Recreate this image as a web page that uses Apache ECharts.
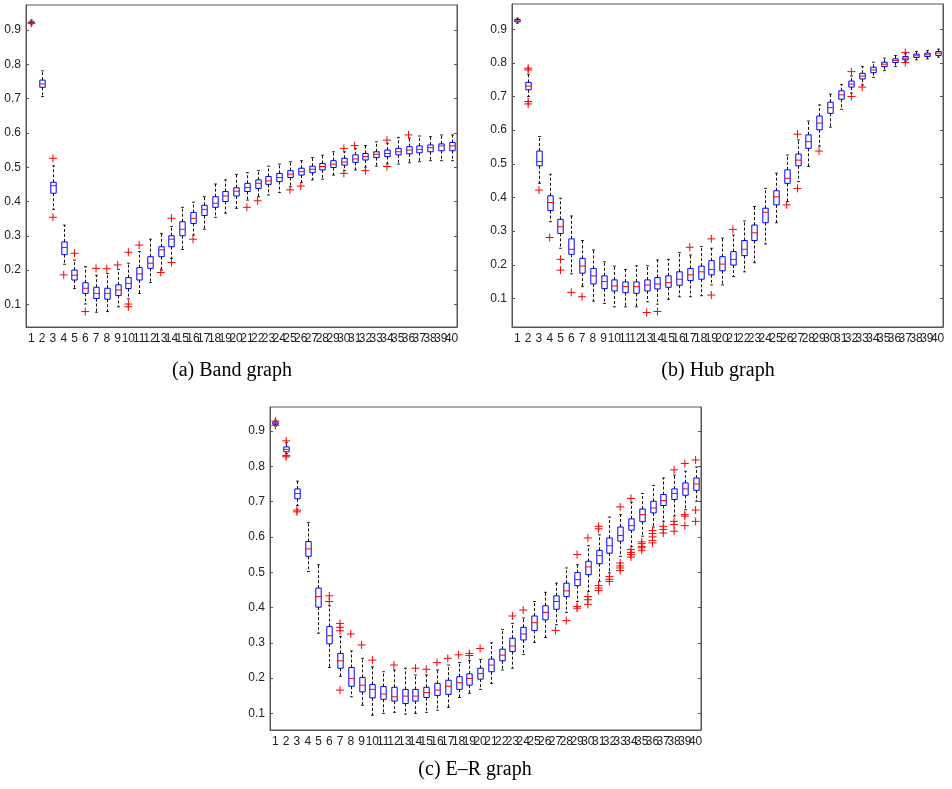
<!DOCTYPE html>
<html>
<head>
<meta charset="utf-8">
<script src="https://cdn.jsdelivr.net/npm/echarts@6/dist/echarts.min.js"></script>
<style>
  html, body { margin: 0; padding: 0; background: #fff; }
  #chart { width: 952px; height: 789px; }
</style>
</head>
<body>
<div id="chart"></div>
<script>
// categories on the x axis
var boxLabels = ['1','2','3','4','5','6','7','8','9','10','11','12','13','14','15','16','17','18','19','20',
  '21','22','23','24','25','26','27','28','29','30','31','32','33','34','35','36','37','38','39','40'];
var yTicks = [0.1, 0.2, 0.3, 0.4, 0.5, 0.6, 0.7, 0.8, 0.9];

// (a) Band graph
var bandMin = [0.915,0.706,0.377,0.217,0.146,0.101,0.077,0.079,0.093,0.116,0.132,0.164,0.2,0.234,0.26,0.302,0.319,0.354,0.366,0.38,0.404,0.414,0.419,0.426,0.443,0.455,0.463,0.465,0.477,0.49,0.492,0.5,0.503,0.51,0.509,0.513,0.516,0.519,0.519,0.519];
var bandQ1  = [0.92,0.733,0.424,0.245,0.171,0.132,0.117,0.115,0.126,0.146,0.171,0.205,0.239,0.268,0.3,0.336,0.359,0.383,0.4,0.416,0.429,0.438,0.45,0.458,0.47,0.477,0.484,0.492,0.499,0.506,0.514,0.521,0.528,0.531,0.536,0.539,0.542,0.545,0.548,0.548];
var bandMed = [0.922,0.743,0.446,0.266,0.185,0.147,0.132,0.132,0.142,0.161,0.189,0.22,0.259,0.29,0.319,0.351,0.377,0.395,0.416,0.43,0.441,0.453,0.46,0.47,0.48,0.487,0.494,0.502,0.509,0.515,0.524,0.531,0.538,0.54,0.545,0.55,0.552,0.557,0.562,0.562];
var bandQ3  = [0.924,0.754,0.456,0.282,0.2,0.163,0.15,0.147,0.157,0.178,0.207,0.239,0.268,0.3,0.341,0.368,0.389,0.414,0.429,0.44,0.453,0.463,0.473,0.482,0.49,0.497,0.503,0.511,0.519,0.526,0.536,0.54,0.545,0.55,0.555,0.56,0.562,0.565,0.568,0.572];
var bandMax = [0.929,0.781,0.504,0.331,0.229,0.21,0.185,0.19,0.202,0.22,0.254,0.29,0.307,0.327,0.383,0.398,0.414,0.451,0.463,0.479,0.484,0.49,0.503,0.509,0.516,0.519,0.528,0.535,0.545,0.545,0.555,0.563,0.574,0.57,0.587,0.585,0.591,0.589,0.594,0.594];
var bandOut = [[1,0.92],[3,0.526],[3,0.354],[4,0.186],[5,0.249],[6,0.079],[7,0.205],[8,0.204],[9,0.215],[10,0.252],[10,0.101],[10,0.093],
  [11,0.273],[13,0.193],[14,0.351],[14,0.222],[16,0.29],[21,0.383],[22,0.402],[25,0.434],[26,0.445],[30,0.555],[30,0.482],
  [31,0.563],[32,0.49],[34,0.579],[34,0.502],[36,0.594]];

// (b) Hub graph
var hubMin = [0.918,0.7,0.442,0.328,0.249,0.173,0.135,0.092,0.085,0.075,0.075,0.075,0.09,0.083,0.097,0.105,0.105,0.108,0.14,0.14,0.165,0.179,0.206,0.262,0.325,0.388,0.447,0.492,0.553,0.609,0.662,0.71,0.734,0.757,0.777,0.789,0.805,0.809,0.812,0.817];
var hubQ1  = [0.922,0.72,0.494,0.361,0.293,0.231,0.175,0.143,0.129,0.122,0.117,0.115,0.122,0.128,0.133,0.139,0.153,0.157,0.17,0.182,0.199,0.227,0.272,0.325,0.378,0.442,0.494,0.546,0.601,0.65,0.692,0.728,0.752,0.771,0.789,0.801,0.809,0.816,0.819,0.822];
var hubMed = [0.925,0.731,0.507,0.385,0.313,0.246,0.196,0.167,0.15,0.137,0.135,0.135,0.14,0.143,0.147,0.157,0.17,0.179,0.186,0.202,0.216,0.246,0.295,0.356,0.402,0.457,0.511,0.566,0.621,0.667,0.705,0.737,0.761,0.779,0.796,0.807,0.814,0.821,0.824,0.829];
var hubQ3  = [0.929,0.742,0.538,0.405,0.335,0.277,0.219,0.189,0.167,0.155,0.149,0.149,0.155,0.162,0.167,0.179,0.189,0.196,0.212,0.224,0.239,0.272,0.318,0.368,0.42,0.482,0.529,0.586,0.642,0.683,0.717,0.746,0.769,0.787,0.802,0.812,0.819,0.826,0.829,0.834];
var hubMax = [0.933,0.765,0.581,0.469,0.398,0.345,0.272,0.244,0.209,0.196,0.186,0.197,0.197,0.214,0.216,0.236,0.229,0.254,0.249,0.279,0.288,0.33,0.373,0.427,0.472,0.526,0.571,0.627,0.675,0.707,0.736,0.761,0.789,0.802,0.814,0.822,0.827,0.834,0.837,0.841];
var hubOut = [[2,0.784],[2,0.779],[2,0.685],[2,0.678],[3,0.422],[4,0.281],[5,0.216],[5,0.184],[6,0.118],[7,0.105],[13,0.058],[14,0.061],
  [17,0.252],[19,0.277],[19,0.11],[21,0.305],[26,0.378],[27,0.588],[27,0.427],[29,0.538],[32,0.774],[32,0.7],[33,0.728],[37,0.831],[37,0.801]];

// (c) E-R graph
var erMin = [0.914,0.836,0.689,0.502,0.327,0.23,0.205,0.147,0.123,0.095,0.1,0.103,0.098,0.1,0.103,0.109,0.117,0.145,0.157,0.168,0.185,0.223,0.228,0.267,0.301,0.315,0.351,0.386,0.417,0.445,0.474,0.498,0.545,0.573,0.602,0.628,0.644,0.659,0.677,0.701];
var erQ1  = [0.919,0.841,0.708,0.545,0.401,0.297,0.228,0.177,0.161,0.144,0.14,0.135,0.128,0.135,0.145,0.151,0.154,0.168,0.18,0.197,0.218,0.249,0.275,0.308,0.335,0.365,0.395,0.431,0.462,0.493,0.524,0.554,0.588,0.619,0.643,0.668,0.689,0.706,0.718,0.732];
var erMed = [0.922,0.848,0.723,0.566,0.431,0.32,0.249,0.199,0.18,0.168,0.155,0.147,0.149,0.149,0.159,0.166,0.177,0.187,0.199,0.213,0.237,0.265,0.291,0.325,0.357,0.386,0.417,0.447,0.479,0.515,0.547,0.575,0.604,0.632,0.663,0.682,0.703,0.723,0.736,0.75];
var erQ3  = [0.926,0.855,0.736,0.587,0.455,0.346,0.27,0.23,0.202,0.182,0.176,0.174,0.168,0.168,0.174,0.185,0.194,0.204,0.212,0.228,0.254,0.282,0.313,0.344,0.376,0.405,0.433,0.469,0.499,0.531,0.562,0.597,0.628,0.651,0.679,0.701,0.72,0.736,0.753,0.767];
var erMax = [0.931,0.867,0.758,0.641,0.521,0.405,0.318,0.277,0.256,0.232,0.218,0.223,0.228,0.209,0.209,0.223,0.237,0.244,0.25,0.253,0.3,0.338,0.355,0.37,0.417,0.443,0.469,0.512,0.521,0.575,0.606,0.656,0.663,0.698,0.723,0.746,0.767,0.775,0.786,0.798];
var erOut = [[1,0.928],[1,0.916],[2,0.872],[2,0.831],[2,0.827],[3,0.676],[3,0.671],[6,0.433],[6,0.417],[7,0.355],[7,0.344],[7,0.334],[7,0.166],
  [8,0.325],[9,0.294],[10,0.251],[12,0.237],[14,0.228],[15,0.225],[16,0.244],[17,0.256],[18,0.266],[19,0.27],[19,0.264],[20,0.284],
  [23,0.376],[24,0.393],[27,0.335],[28,0.363],[29,0.55],[29,0.403],[29,0.398],[30,0.597],[30,0.431],[30,0.422],[30,0.409],
  [31,0.63],[31,0.623],[31,0.462],[31,0.455],[31,0.448],[32,0.488],[32,0.48],[32,0.474],[33,0.685],[33,0.526],[33,0.518],[33,0.512],[33,0.505],
  [34,0.709],[34,0.564],[34,0.556],[34,0.55],[34,0.543],[35,0.586],[35,0.581],[35,0.573],[35,0.569],[35,0.562],
  [36,0.618],[36,0.61],[36,0.6],[36,0.59],[36,0.583],[37,0.63],[37,0.621],[37,0.611],[38,0.79],[38,0.644],[38,0.635],[38,0.616],
  [39,0.808],[39,0.663],[39,0.659],[39,0.632],[40,0.818],[40,0.676],[40,0.644]];

var panels = [
  { grid: { left: 26, top: 5, width: 431, height: 322 }, yMin: 0.034, yMax: 0.973,
    box: [bandMin, bandQ1, bandMed, bandQ3, bandMax], out: bandOut, caption: '(a) Band graph', cx: 232, cy: 371 },
  { grid: { left: 512, top: 4, width: 431, height: 323 }, yMin: 0.015, yMax: 0.975,
    box: [hubMin, hubQ1, hubMed, hubQ3, hubMax], out: hubOut, caption: '(b) Hub graph', cx: 718, cy: 371 },
  { grid: { left: 270, top: 407, width: 431, height: 323 }, yMin: 0.053, yMax: 0.968,
    box: [erMin, erQ1, erMed, erQ3, erMax], out: erOut, caption: '(c) E\u2013R graph', cx: 475, cy: 770 }
];

var axisColor = '#555';
var labelFont = '"Liberation Sans", Arial, sans-serif';

function renderBox(params, api) {
  var x = api.value(0);
  var lo = api.coord([x, api.value(1)]);
  var q1 = api.coord([x, api.value(2)]);
  var md = api.coord([x, api.value(3)]);
  var q3 = api.coord([x, api.value(4)]);
  var hi = api.coord([x, api.value(5)]);
  var bw = api.size([1, 0])[0] * 0.5;
  var cw = bw * 0.5;
  var cx = Math.round(lo[0]) + 0.5;
  var whisker = { stroke: '#111', lineWidth: 1, lineDash: [3, 2] };
  var cap = { stroke: '#111', lineWidth: 1 };
  return {
    type: 'group',
    children: [
      { type: 'line', shape: { x1: cx, y1: q3[1], x2: cx, y2: hi[1] }, style: whisker },
      { type: 'line', shape: { x1: cx, y1: q1[1], x2: cx, y2: lo[1] }, style: whisker },
      { type: 'line', shape: { x1: cx - cw / 2, y1: hi[1], x2: cx + cw / 2, y2: hi[1] }, style: cap },
      { type: 'line', shape: { x1: cx - cw / 2, y1: lo[1], x2: cx + cw / 2, y2: lo[1] }, style: cap },
      { type: 'rect', shape: { x: cx - bw / 2, y: q3[1], width: bw, height: q1[1] - q3[1] },
        style: { fill: 'none', stroke: '#0000ff', lineWidth: 1 } },
      { type: 'line', shape: { x1: cx - bw / 2, y1: md[1], x2: cx + bw / 2, y2: md[1] },
        style: { stroke: '#ff0000', lineWidth: 1 } }
    ]
  };
}

function renderPlus(params, api) {
  var p = api.coord([api.value(0), api.value(1)]);
  var h = 4;
  var st = { stroke: '#ff0000', lineWidth: 1 };
  return {
    type: 'group',
    children: [
      { type: 'line', shape: { x1: p[0] - h, y1: p[1], x2: p[0] + h, y2: p[1] }, style: st },
      { type: 'line', shape: { x1: p[0], y1: p[1] - h, x2: p[0], y2: p[1] + h }, style: st }
    ]
  };
}

var grids = [], xAxes = [], yAxes = [], series = [], graphics = [];

panels.forEach(function (pn, i) {
  grids.push(Object.assign({ show: true, borderColor: axisColor, borderWidth: 1, backgroundColor: '#fff' }, pn.grid));
  xAxes.push({
    type: 'category', gridIndex: i, data: boxLabels, boundaryGap: true,
    axisLine: { show: true, lineStyle: { color: axisColor } },
    axisTick: { show: false },
    axisLabel: { interval: 0, margin: 6, fontSize: 12, color: '#222', fontFamily: labelFont }
  });
  yAxes.push({
    type: 'value', gridIndex: i, min: pn.yMin, max: pn.yMax, position: 'left',
    axisLine: { show: true, lineStyle: { color: axisColor } },
    axisTick: { show: true, inside: true, length: 3, customValues: yTicks, lineStyle: { color: axisColor } },
    axisLabel: { customValues: yTicks, margin: 5, fontSize: 12, color: '#222', fontFamily: labelFont,
      formatter: function (v) { return v.toFixed(1); } },
    splitLine: { show: false }
  });
  yAxes.push({
    type: 'value', gridIndex: i, min: pn.yMin, max: pn.yMax, position: 'right',
    axisLine: { show: true, lineStyle: { color: axisColor } },
    axisTick: { show: true, inside: true, length: 3, customValues: yTicks, lineStyle: { color: axisColor } },
    axisLabel: { show: false },
    splitLine: { show: false }
  });

  var boxData = boxLabels.map(function (lab, k) {
    return [k, pn.box[0][k], pn.box[1][k], pn.box[2][k], pn.box[3][k], pn.box[4][k]];
  });
  series.push({
    type: 'custom', xAxisIndex: i, yAxisIndex: i * 2, renderItem: renderBox,
    encode: { x: 0, y: [1, 2, 3, 4, 5] }, data: boxData, silent: true, clip: false
  });
  series.push({
    type: 'custom', xAxisIndex: i, yAxisIndex: i * 2, renderItem: renderPlus,
    encode: { x: 0, y: 1 }, data: pn.out.map(function (o) { return [o[0] - 1, o[1]]; }), silent: true, z: 3
  });

  graphics.push({
    type: 'text', x: pn.cx, y: pn.cy,
    style: { text: pn.caption, fill: '#000', font: '20px "Liberation Serif", "Times New Roman", serif',
      textAlign: 'center', textVerticalAlign: 'middle' }
  });
});

var chart = echarts.init(document.getElementById('chart'));
chart.setOption({
  animation: false,
  backgroundColor: '#fff',
  grid: grids,
  xAxis: xAxes,
  yAxis: yAxes,
  series: series,
  graphic: graphics
});
</script>
</body>
</html>
